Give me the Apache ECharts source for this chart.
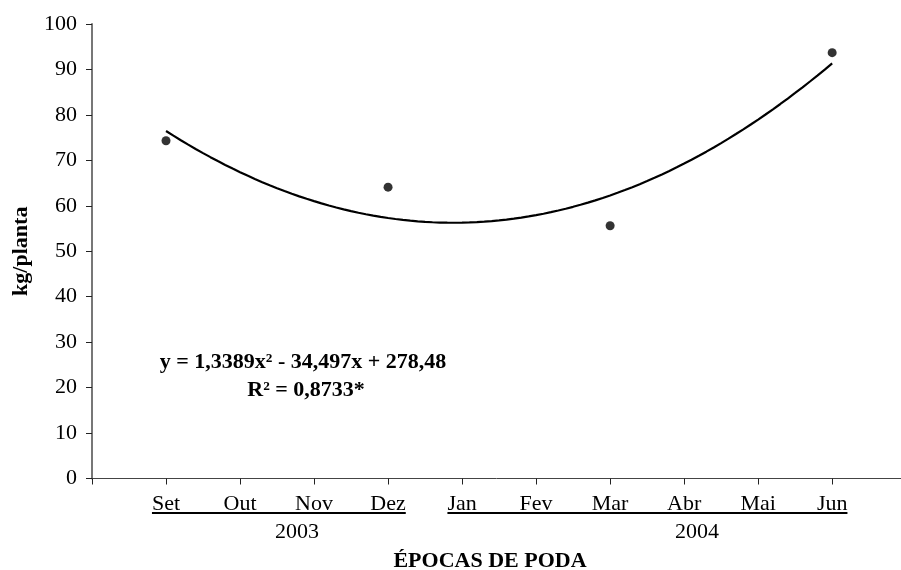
<!DOCTYPE html>
<html>
<head>
<meta charset="utf-8">
<script src="https://cdn.jsdelivr.net/npm/echarts@6/dist/echarts.min.js"></script>
<style>
  html, body { margin: 0; padding: 0; background: #fff; }
  #chart { width: 901px; height: 570px; }
</style>
</head>
<body>
<div id="chart"></div>
<script>
// Pruning months (x = month number used by the fitted trend)
const months = ['Set', 'Out', 'Nov', 'Dez', 'Jan', 'Fev', 'Mar', 'Abr', 'Mai', 'Jun'];
const monthX = [9, 10, 11, 12, 13, 14, 15, 16, 17, 18];

// Year groups under the month labels
const years = ['2003', '2004'];
const yearFirst = ['Set', 'Jan'];
const yearLast = ['Dez', 'Jun'];

// Observed yield (kg/planta)
const obsMonths = ['Set', 'Dez', 'Mar', 'Jun'];
const obsValues = [74.3, 64.1, 55.6, 93.7];

// Quadratic trend: y = c2*x^2 + c1*x + c0
const trendCoef = [278.48, -34.497, 1.3389];
const trendR2 = '0,8733*';

// Y axis scale
const yMin = 0, yMax = 100, yStep = 10;

const FONT = '"Liberation Serif", "Times New Roman", serif';
const FS = 22;

const xOf = m => monthX[months.indexOf(m)];
const trendAt = x => trendCoef[0] + trendCoef[1] * x + trendCoef[2] * x * x;
const fmt = v => String(Math.abs(v)).replace('.', ',');

const obsData = obsMonths.map((m, i) => [xOf(m), obsValues[i]]);

// Trend curve evaluated from the stated equation across the fitted range
const trendData = [];
const x0 = monthX[0], x1 = monthX[monthX.length - 1];
for (let k = 0; k <= (x1 - x0) * 10; k++) {
  const x = x0 + k / 10;
  trendData.push([x, trendAt(x)]);
}

const eqText = 'y = ' + fmt(trendCoef[2]) + 'x² ' + (trendCoef[1] < 0 ? '- ' : '+ ') +
  fmt(trendCoef[1]) + 'x ' + (trendCoef[0] < 0 ? '- ' : '+ ') + fmt(trendCoef[0]);
const r2Text = 'R² = ' + trendR2;

const chart = echarts.init(document.getElementById('chart'), null, { renderer: 'canvas' });

// Axis runs from one month before the first pruning to the right edge of the plot
const xMin = x0 - 1, xMax = 18.93;
const tickValues = [xMin].concat(monthX);

const option = {
  animation: false,
  backgroundColor: '#fff',
  grid: { left: 92, top: 24, right: 0, bottom: 91.5, containLabel: false },
  xAxis: {
    type: 'value',
    min: xMin, max: xMax, interval: 1,
    splitLine: { show: false },
    axisLine: { lineStyle: { color: '#444', width: 1 } },
    axisTick: { show: true, length: 6, customValues: tickValues, lineStyle: { color: '#222' } },
    axisLabel: {
      margin: 15,
      customValues: monthX,
      fontFamily: FONT, fontSize: FS, color: '#000',
      formatter: v => { const i = monthX.indexOf(v); return i >= 0 ? months[i] : ''; }
    }
  },
  yAxis: {
    type: 'value',
    min: yMin, max: yMax, interval: yStep,
    splitLine: { show: false },
    axisLine: { show: true, lineStyle: { color: '#777', width: 2 } },
    axisTick: { show: true, length: 6, lineStyle: { color: '#222' } },
    axisLabel: { margin: 15, fontFamily: FONT, fontSize: FS, color: '#000' },
    name: 'kg/planta',
    nameLocation: 'middle',
    nameGap: 60,
    nameTextStyle: { fontFamily: FONT, fontSize: FS, fontWeight: 'bold', color: '#000' }
  },
  series: [
    {
      name: 'trend',
      type: 'line',
      data: trendData,
      symbol: 'none',
      lineStyle: { color: '#000', width: 2.2 },
      z: 2
    },
    {
      name: 'obs',
      type: 'scatter',
      data: obsData,
      symbol: 'circle',
      symbolSize: 9,
      itemStyle: { color: '#000' },
      z: 3
    }
  ]
};

chart.setOption(option);

// Text decorations: underlines per year, year labels, equation and axis title
const ctx = document.createElement('canvas').getContext('2d');
ctx.font = FS + 'px ' + FONT;
const px = v => chart.convertToPixel({ xAxisIndex: 0 }, v);

const graphics = [];
const underlineY = 513;
const yearX = [297, 697];
years.forEach((yr, i) => {
  const a = px(xOf(yearFirst[i])) - ctx.measureText(yearFirst[i]).width / 2;
  const b = px(xOf(yearLast[i])) + ctx.measureText(yearLast[i]).width / 2;
  graphics.push({
    type: 'line',
    shape: { x1: a, y1: underlineY, x2: b, y2: underlineY },
    style: { stroke: '#000', lineWidth: 2 }
  });
  graphics.push({
    type: 'text',
    style: { text: yr, x: yearX[i], y: 532, font: FS + 'px ' + FONT, fill: '#000', textAlign: 'center', textVerticalAlign: 'middle' }
  });
});

graphics.push({
  type: 'text',
  style: { text: 'ÉPOCAS DE PODA', x: 490, y: 561, font: 'bold ' + FS + 'px ' + FONT, fill: '#000', textAlign: 'center', textVerticalAlign: 'middle' }
});
graphics.push({
  type: 'text',
  style: { text: eqText, x: 303, y: 362, font: 'bold ' + FS + 'px ' + FONT, fill: '#000', textAlign: 'center', textVerticalAlign: 'middle' }
});
graphics.push({
  type: 'text',
  style: { text: r2Text, x: 306, y: 390, font: 'bold ' + FS + 'px ' + FONT, fill: '#000', textAlign: 'center', textVerticalAlign: 'middle' }
});

chart.setOption({ graphic: graphics });
</script>
</body>
</html>
